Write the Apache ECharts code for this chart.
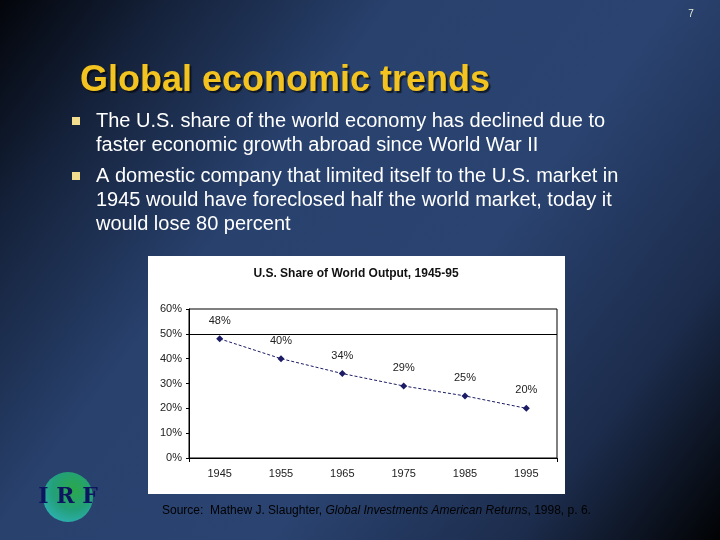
<!DOCTYPE html>
<html>
<head>
<meta charset="utf-8">
<script src="https://cdn.jsdelivr.net/npm/echarts@6/dist/echarts.min.js"></script>
<style>html,body{margin:0;padding:0;background:#000;}#c{width:720px;height:540px;}</style>
</head>
<body>
<div id="c"></div>
<script>
const years = ['1945', '1955', '1965', '1975', '1985', '1995'];
const share = [48, 40, 34, 29, 25, 20];
const yTicks = [0, 10, 20, 30, 40, 50, 60];
const slideTitle = 'Global economic trends';
const bullets = [
  ['The U.S. share of the world economy has declined due to', 'faster economic growth abroad since World War II'],
  ['A domestic company that limited itself to the U.S. market in', '1945 would have foreclosed half the world market, today it', 'would lose 80 percent']
];
const chartTitle = 'U.S. Share of World Output, 1945-95';

const FONT = '"Liberation Sans", Arial, sans-serif';
const chart = echarts.init(document.getElementById('c'), null, {renderer: 'canvas'});

const graphics = [
  // white chart box
  {type: 'rect', z: 0, shape: {x: 148, y: 256, width: 417, height: 238}, style: {fill: '#ffffff'}},
  {type: 'text', z: 10, style: {x: 356, y: 274, text: chartTitle, font: 'bold 12px ' + FONT, fill: '#111', textAlign: 'center', textVerticalAlign: 'middle'}},
  // page number
  {type: 'text', z: 10, style: {x: 691, y: 14, text: '7', font: '10px ' + FONT, fill: '#e6eed6', textAlign: 'center', textVerticalAlign: 'middle'}},
  // slide title
  {type: 'text', z: 10, style: {x: 80, y: 81, text: slideTitle, font: 'bold 36px ' + FONT, fill: '#f3c320', textAlign: 'left', textVerticalAlign: 'middle', textShadowColor: 'rgba(0,0,0,0.6)', textShadowOffsetX: 2, textShadowOffsetY: 2, textShadowBlur: 1}},
  // source
  {type: 'text', z: 10, style: {x: 162, y: 511, textVerticalAlign: 'middle',
    rich: {n: {fontFamily: FONT, fontSize: 12, color: '#e8ecf4'}, i: {fontFamily: FONT, fontSize: 12, fontStyle: 'italic', color: '#e8ecf4'}},
    text: '{n|Source:  Mathew J. Slaughter, }{i|Global Investments American Returns}{n|, 1998, p. 6.}'}},
  // logo globe
  {type: 'circle', z: 5, shape: {cx: 68, cy: 497, r: 25}, style: {fill: {type: 'radial', x: 0.6, y: 0.35, r: 0.75, colorStops: [{offset: 0, color: '#2aa84a'}, {offset: 0.55, color: '#23a07a'}, {offset: 1, color: '#2fb2b8'}]}}},
  {type: 'text', z: 6, style: {x: 68, y: 497, text: 'I R F', font: 'bold 22px "DejaVu Serif", serif', fill: '#0e1460', textAlign: 'center', textVerticalAlign: 'middle'}}
];

const lineYs = [[121, 145], [176, 200, 224]];
bullets.forEach((b, bi) => {
  graphics.push({type: 'rect', z: 10, shape: {x: 72, y: lineYs[bi][0] - 4, width: 8, height: 8}, style: {fill: '#f2de8e'}});
  b.forEach((line, li) => {
    graphics.push({type: 'text', z: 10, style: {x: 96, y: lineYs[bi][li], text: line, font: '20px ' + FONT, fill: '#ffffff', textVerticalAlign: 'middle'}});
  });
});

chart.setOption({
  backgroundColor: {type: 'linear', x: 0, y: 0, x2: 1, y2: 1, colorStops: [
    {offset: 0, color: '#03050a'},
    {offset: 0.15, color: '#15223b'},
    {offset: 0.35, color: '#28416d'},
    {offset: 0.6, color: '#2a4370'},
    {offset: 0.82, color: '#1c2c4c'},
    {offset: 1, color: '#010203'}
  ]},
  animation: false,
  graphic: graphics,
  grid: {left: 189, top: 309, width: 368, height: 149, show: true, borderColor: '#000', borderWidth: 1, backgroundColor: 'transparent', z: 3},
  xAxis: {
    type: 'category', data: years, boundaryGap: true, z: 4,
    axisLine: {lineStyle: {color: '#000', width: 1}},
    axisTick: {show: true, length: 4, interval: (i) => i === 4, lineStyle: {color: '#000'}},
    axisLabel: {fontFamily: FONT, fontSize: 11, color: '#222', margin: 10}
  },
  yAxis: {
    type: 'value', min: yTicks[0], max: yTicks[yTicks.length - 1], interval: 10, z: 4,
    axisLine: {show: true, lineStyle: {color: '#000', width: 1}},
    axisTick: {show: true, length: 3, lineStyle: {color: '#000'}},
    splitLine: {show: false},
    axisLabel: {fontFamily: FONT, fontSize: 11, color: '#222', margin: 7, formatter: '{value}%'}
  },
  series: [{
    type: 'line', data: share, z: 5,
    symbol: 'diamond', symbolSize: 7,
    lineStyle: {color: '#1c1c66', width: 1, type: [3, 2]},
    itemStyle: {color: '#1c1c66'},
    label: {show: true, position: 'top', distance: 9, formatter: '{c}%', fontFamily: FONT, fontSize: 11, color: '#222'},
    markLine: {silent: true, symbol: 'none', label: {show: false}, lineStyle: {color: '#000', width: 1, type: 'solid'}, data: [{yAxis: 50}]}
  }]
});
</script>
</body>
</html>
